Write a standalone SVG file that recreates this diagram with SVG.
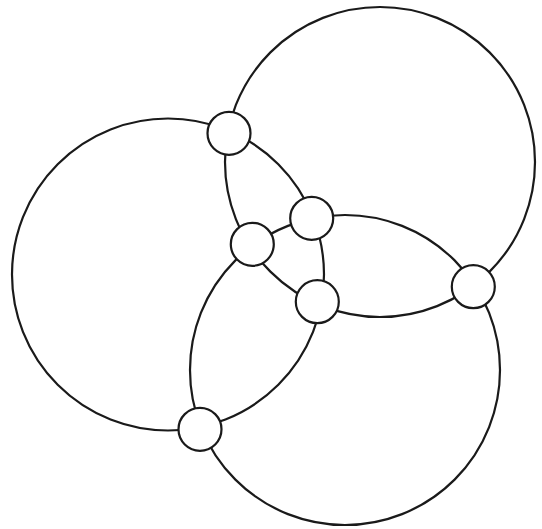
<svg xmlns="http://www.w3.org/2000/svg" width="542" height="529" viewBox="0 0 542 529">
<style>
.ring{fill:none;stroke:#1a1a1a;stroke-width:2.2}
.node{fill:#ffffff;stroke:#1a1a1a;stroke-width:2.2}
</style>
<rect width="542" height="529" fill="#ffffff"/>
<g id="connectors">
<circle class="ring" cx="168" cy="274.5" r="156"/>
<circle class="ring" cx="380" cy="162" r="155"/>
<circle class="ring" cx="345" cy="370" r="155"/>
</g>
<g id="n1"><circle class="node" cx="229" cy="133.3" r="21.5"/></g>
<g id="n2"><circle class="node" cx="311.7" cy="218.3" r="21.5"/></g>
<g id="n3"><circle class="node" cx="252.3" cy="244.3" r="21.5"/></g>
<g id="n4"><circle class="node" cx="317.3" cy="301.7" r="21.5"/></g>
<g id="n5"><circle class="node" cx="473.3" cy="286.7" r="21.5"/></g>
<g id="n6"><circle class="node" cx="200" cy="429.3" r="21.5"/></g>
</svg>
